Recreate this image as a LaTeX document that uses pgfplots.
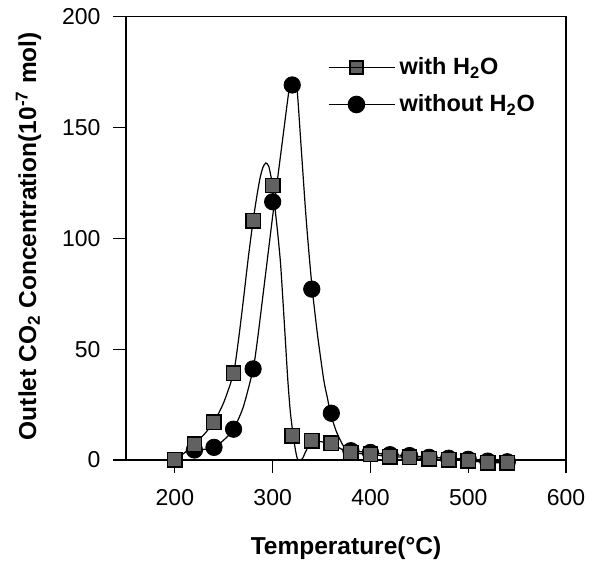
\documentclass[border=0pt]{standalone}
\usepackage{fontspec}
\setmainfont{Liberation Sans}
\usepackage{pgfplots}
\pgfplotsset{compat=1.18}
\definecolor{sqfill}{gray}{0.38}
\begin{document}
\begin{tikzpicture}[x=1pt,y=1pt]
\useasboundingbox (0,0) rectangle (294.5,281);
\begin{axis}[
  at={(63pt,51pt)}, anchor=south west,
  scale only axis, width=220pt, height=221.65pt,
  xmin=150, xmax=600, ymin=0, ymax=200,
  clip=false,
  xtick={200,300,400,500,600}, ytick={0,50,100,150,200},
  tick align=outside, tick pos=left, major tick length=6.5pt,
  axis line style={line width=0.6pt},
  tick style={line width=0.6pt, black},
  /pgf/number format/assume math mode=true,
  ticklabel style={font=\fontsize{11.5}{13}\selectfont},
  xticklabel style={yshift=-4.7pt},
  yticklabel style={xshift=-2.7pt},
  xlabel={Temperature(°C)},
  ylabel={Outlet CO\textsubscript{2} Concentration(10\textsuperscript{-7} mol)},
  xlabel style={at={(axis description cs:0.5,-0.1985)}, anchor=center, font=\bfseries\fontsize{12.25}{14}\selectfont},
  ylabel style={at={(axis description cs:-0.2216,0.505)}, anchor=center, font=\bfseries\fontsize{12.25}{14}\selectfont},
  legend cell align=left,
  legend image code/.code={\draw[mark repeat=2,mark phase=2,#1] plot coordinates {(0pt,0pt) (13.75pt,0pt) (27.5pt,0pt)};\path (0pt,0pt) -- (33pt,0pt);},
  legend style={draw=none, fill=none, at={(0.459,0.918)}, anchor=north west, inner sep=0pt,
    font=\bfseries\fontsize{11.75}{13}\selectfont, row sep=4.5pt},
]
% fitted curves
\addplot[black, line width=0.6pt, smooth, tension=0.4, forget plot] coordinates {
(200,0) (210,3.3) (220,7.2) (230,11.6) (240,17.2) (250,26) (260,39.2) (265,54) (270,72) (275,91) (280,108) (284,119.5) (287,127) (290,132) (293,134) (296,132.5) (299,126) (302,115) (305,103) (308,89) (310.5,72) (313,54) (315.5,36) (318,22) (321,11) (323.5,4) (325.5,0.3) (328,0) (330.5,0.6) (334,4) (340,8.6) (350,8.2) (360,7.5) (370,5) (380,3.2) (400,2.6) (420,1.5) (440,1.2) (460,0.5) (480,0) (500,-0.3) (520,-1.2) (540,-1.2)
};
\addplot[black, line width=0.6pt, smooth, tension=0.4, forget plot] coordinates {
(220,4.5) (230,4.8) (240,5.7) (250,9) (260,13.9) (270,24) (280,41) (284.4,54) (290,74) (295,92) (300,110) (303,120) (310,144) (316.6,166.5) (319,170) (322,170.5) (325,167) (329,142) (333.7,112) (337,94) (340.5,77) (346,56) (352.3,36) (356,28) (359.2,21) (365,13) (372.8,6) (380,4.2) (400,3.4) (420,2.4) (440,2) (460,1.2) (480,0.8) (500,0.3) (520,-0.5) (540,-0.8)
};
% markers
\addplot[only marks, mark=*, mark size=4.1pt, mark options={fill=black, draw=black}, forget plot] coordinates {
(220,4.5) (240,5.7) (260,13.9) (280,41.1) (300,116.5) (320,169.2) (340,77.1) (360,21.1) (380,4.2) (400,3.4) (420,2.4) (440,2) (460,1.2) (480,0.8) (500,0.3) (520,-0.5) (540,-0.8)
};
\addplot[only marks, mark=square*, mark size=3.6pt, mark options={fill=sqfill, draw=black, line width=0.7pt}, forget plot] coordinates {
(200,0) (220,7.1) (240,17.1) (260,39.1) (280,108) (300,123.8) (320,11) (340,8.6) (360,7.5) (380,3.2) (400,2.6) (420,1.5) (440,1.2) (460,0.5) (480,0) (500,-0.3) (520,-1.2) (540,-1.2)
};
\addlegendimage{black, line width=0.6pt, mark=square*, mark size=3.3pt, mark options={fill=sqfill, draw=black, line width=0.7pt}}
\addlegendentry{with H\textsubscript{2}O}
\addlegendimage{black, line width=0.6pt, mark=*, mark size=4.1pt, mark options={fill=black}}
\addlegendentry{without H\textsubscript{2}O}
\end{axis}
\end{tikzpicture}
\end{document}
